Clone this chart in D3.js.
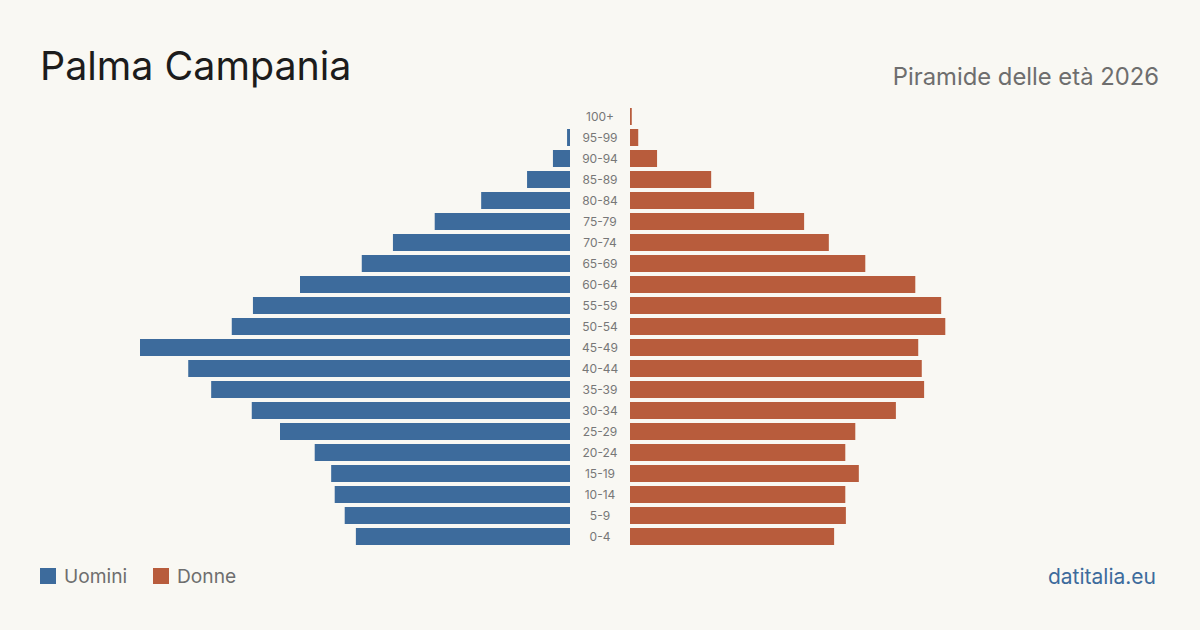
<!DOCTYPE html>
<html>
<head>
<meta charset="utf-8">
<script src="https://cdn.jsdelivr.net/npm/d3@7"></script>
<style>
  body { margin: 0; background: #f9f8f3; }
  svg { display: block; font-family: Inter, "Noto Sans", sans-serif; }
</style>
</head>
<body>
<svg width="1200" height="630"></svg>
<script>
// age groups, top to bottom
const ages = ["100+", "95-99", "90-94", "85-89", "80-84", "75-79", "70-74", "65-69", "60-64",
    "55-59", "50-54", "45-49", "40-44", "35-39", "30-34", "25-29", "20-24", "15-19",
    "10-14", "5-9", "0-4"];
const men = [0, 5, 29, 73, 151, 230, 301, 354, 459, 539, 575, 731, 649, 610, 541, 493, 434, 406, 400, 383, 364];
const women = [3, 14, 46, 138, 211, 296, 338, 400, 485, 529, 536, 490, 496, 500, 452, 383, 366, 389, 366, 367, 347];

const blue = "#3d6b9c";
const red = "#b85c3c";

const svg = d3.select("svg");
svg.append("rect").attr("width", 1200).attr("height", 630).attr("fill", "#f9f8f3");

const maxVal = d3.max(men.concat(women));
const x = d3.scaleLinear().domain([0, maxVal]).range([0, 430]);
const y = d3.scaleBand().domain(ages).range([106, 547]).paddingInner(4 / 21).paddingOuter(2 / 21);

const leftEdge = 570, rightEdge = 630;

// men bars (grow leftwards)
svg.append("g").selectAll("rect")
    .data(ages)
    .enter().append("rect")
    .attr("x", (d, i) => leftEdge - x(men[i]))
    .attr("y", d => y(d))
    .attr("width", (d, i) => x(men[i]))
    .attr("height", y.bandwidth())
    .attr("fill", blue);

// women bars
svg.append("g").selectAll("rect")
    .data(ages)
    .enter().append("rect")
    .attr("x", rightEdge)
    .attr("y", d => y(d))
    .attr("width", (d, i) => x(women[i]))
    .attr("height", y.bandwidth())
    .attr("fill", red);

// age labels in the middle
svg.append("g").selectAll("text")
    .data(ages)
    .enter().append("text")
    .attr("x", 600)
    .attr("y", d => y(d) + y.bandwidth() / 2)
    .attr("dy", "0.35em")
    .attr("text-anchor", "middle")
    .attr("font-size", 12)
    .attr("fill", "#777")
    .text(d => d);

// titles
svg.append("text").attr("x", 40).attr("y", 80)
    .attr("font-size", 39.4).attr("fill", "#1c1c1c").text("Palma Campania");
svg.append("text").attr("x", 1159).attr("y", 85)
    .attr("text-anchor", "end").attr("font-size", 23.8).attr("fill", "#6e6e6e")
    .text("Piramide delle età 2026");

// legend
const legend = [["Uomini", blue, 40], ["Donne", red, 153]];
legend.forEach(([label, color, lx]) => {
    svg.append("rect").attr("x", lx).attr("y", 568).attr("width", 16).attr("height", 16).attr("fill", color);
    svg.append("text").attr("x", lx + 24).attr("y", 583)
        .attr("font-size", 19.2).attr("fill", "#6e6e6e").text(label);
});

svg.append("text").attr("x", 1156).attr("y", 584)
    .attr("text-anchor", "end").attr("font-size", 21).attr("fill", blue)
    .text("datitalia.eu");
</script>
</body>
</html>
